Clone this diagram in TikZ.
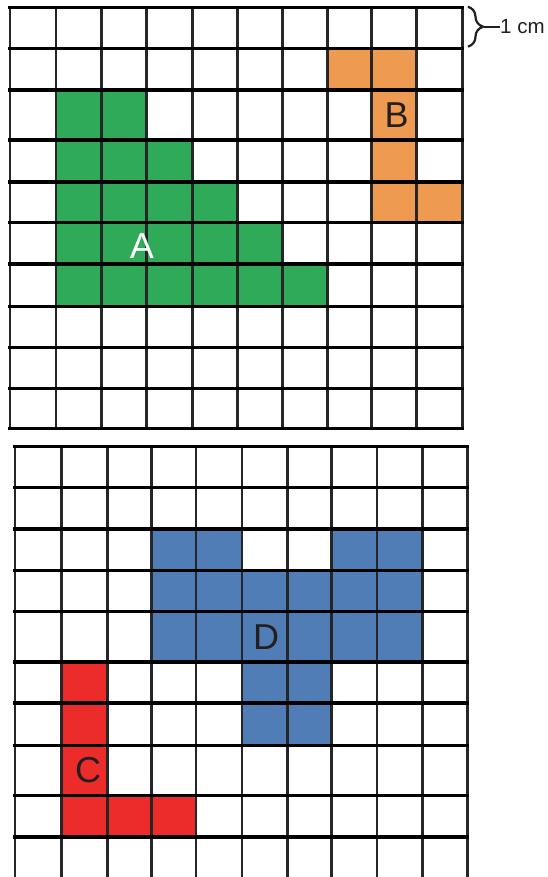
\documentclass[tikz,border=0pt]{standalone}
\usepackage{fontspec}
\setmainfont{Liberation Sans}
\usepackage{xcolor}
\usetikzlibrary{calc, positioning, decorations.pathreplacing}

\definecolor{shapeA}{HTML}{2EAA59}
\definecolor{shapeB}{HTML}{EF9A51}
\definecolor{shapeC}{HTML}{EC2B2B}
\definecolor{shapeD}{HTML}{507DB5}
\definecolor{inkdark}{HTML}{231F20}

\tikzset{
    hline/.style={line width=3.3pt, black, line cap=rect},
    vline/.style={line width=2.8pt, black!85, line cap=rect},
    letter/.style={inner sep=0, text=inkdark, font=\fontsize{36}{40}\selectfont},
}

\begin{document}
\begin{tikzpicture}[x=1pt, y=-1pt]
        \useasboundingbox (0,0) rectangle (547,877);

        \fill[shapeA] (56,90) -- (146.7,90) -- (146.7,140) -- (192.7,140) -- (192.7,182)
            -- (237.3,182) -- (237.3,222.7) -- (282.3,222.7) -- (282.3,264) -- (327.7,264)
            -- (327.7,306.7) -- (56,306.7) -- cycle;
        \fill[shapeB] (327.7,48.3) -- (416.7,48.3) -- (416.7,182) -- (462.3,182)
            -- (462.3,222.7) -- (371.7,222.7) -- (371.7,90) -- (327.7,90) -- cycle;
        \fill[shapeD] (151.7,529) -- (242,529) -- (242,570.7) -- (331.6,570.7) -- (331.6,529)
            -- (422.3,529) -- (422.3,662) -- (331.6,662) -- (331.6,745.3) -- (242,745.3)
            -- (242,662) -- (151.7,662) -- cycle;
        \fill[shapeC] (61.7,662) -- (107.3,662) -- (107.3,795.3) -- (196,795.3) -- (196,837)
            -- (61.7,837) -- cycle;

        \foreach \x in {10,56,101.7,146.7,192.7,237.3,282.3,327.7,371.7,416.7,462.3}
            \draw[vline] (\x,7.3) -- (\x,428.7);
        \foreach \y in {7.3,48.3,90,140,182,222.7,264,306.7,347.3,388.7,428.7}
            \draw[hline] (10,\y) -- (462.3,\y);

        \foreach \x in {15,61.7,107.3,151.7,196,242,287.3,331.6,377,422.3,467.7}
            \draw[vline] (\x,446.7) -- (\x,890);
        \foreach \y in {446.7,487.7,529,570.7,611.7,662,703,745.3,795.3,837}
            \draw[hline] (15,\y) -- (467.7,\y);

        \node[letter, text=white] (A) at (142,246) {A};
        \node[letter] (B) at (396.5,115) {B};
        \node[letter] (C) at (88,770) {C};
        \node[letter] (D) at (266,637) {D};

        \draw[line width=2.2pt, inkdark, decorate, decoration={brace, amplitude=15pt}]
            (468,6.7) -- (468,46.7);
        \coordinate (tip) at (484,26.7);
        \node[inner sep=0, anchor=west, right=16pt of tip, text=inkdark,
            font=\fontsize{20.5}{23}\selectfont] (cm) {1 cm};
        \draw[line width=2.2pt, inkdark] (tip) -- (cm.west);
    \end{tikzpicture}
\end{document}
